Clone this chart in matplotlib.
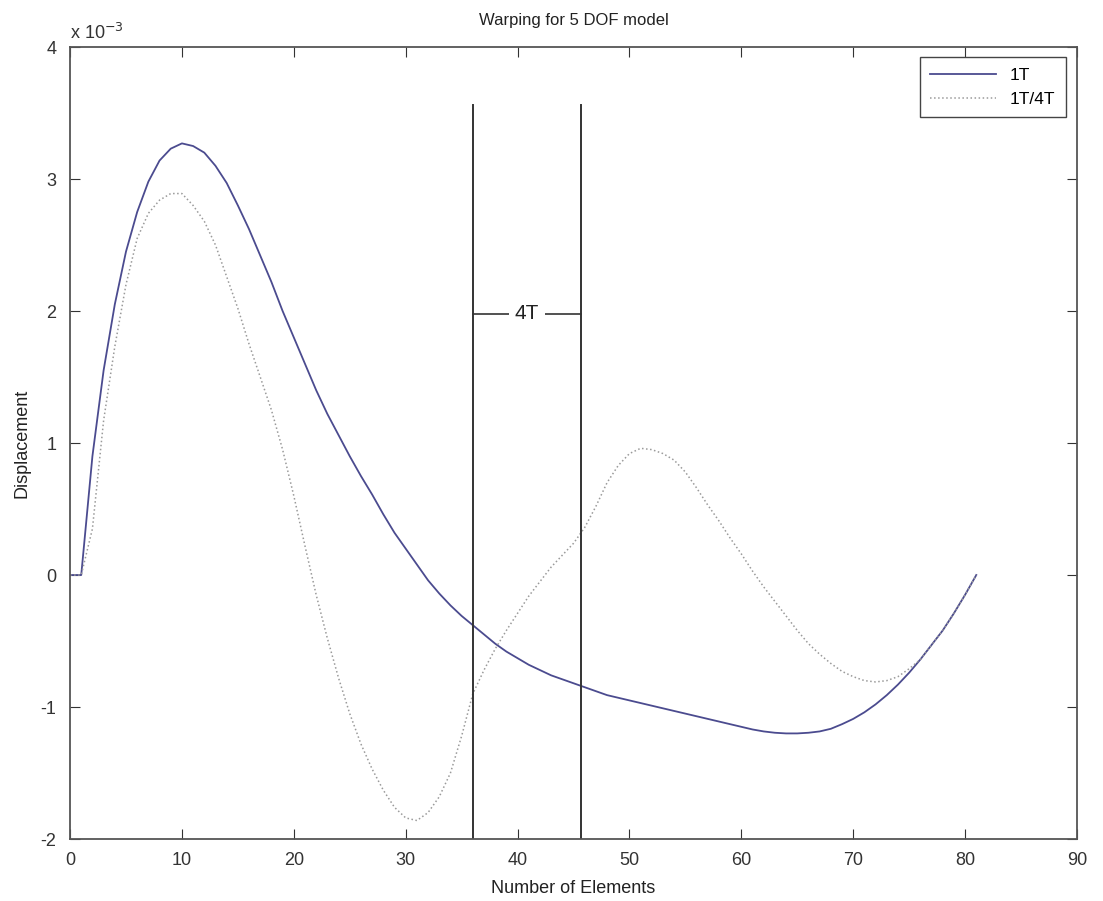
import numpy as np
import matplotlib
matplotlib.use("Agg")
import matplotlib.pyplot as plt

plt.rcParams['font.family'] = ['Liberation Sans', 'DejaVu Sans']
plt.rcParams['axes.unicode_minus'] = False

# number of elements
elements = np.arange(0, 82)

# displacement, units of 1e-3
disp_1t = [0, 0, 0.9, 1.55, 2.05, 2.45, 2.75, 2.98, 3.14, 3.23,
           3.27, 3.25, 3.2, 3.1, 2.97, 2.8, 2.62, 2.42, 2.22, 2.0,
           1.8, 1.6, 1.4, 1.22, 1.06, 0.9, 0.75, 0.61, 0.46, 0.32,
           0.2, 0.08, -0.04, -0.14, -0.23, -0.31, -0.38, -0.45, -0.52, -0.58,
           -0.63, -0.68, -0.72, -0.76, -0.79, -0.82, -0.85, -0.88, -0.91, -0.93,
           -0.95, -0.97, -0.99, -1.01, -1.03, -1.05, -1.07, -1.09, -1.11, -1.13,
           -1.15, -1.17, -1.185, -1.195, -1.2, -1.2, -1.195, -1.185, -1.165, -1.13,
           -1.09, -1.04, -0.98, -0.91, -0.83, -0.74, -0.64, -0.53, -0.42, -0.29,
           -0.15, 0]

disp_1t4t = [0, 0, 0.35, 1.17, 1.73, 2.2, 2.55, 2.74, 2.84, 2.89,
             2.89, 2.8, 2.68, 2.5, 2.26, 2.02, 1.75, 1.5, 1.25, 0.95,
             0.6, 0.22, -0.15, -0.48, -0.78, -1.05, -1.28, -1.47, -1.63, -1.76,
             -1.84, -1.86, -1.8, -1.68, -1.5, -1.22, -0.9, -0.72, -0.56, -0.42,
             -0.29, -0.16, -0.05, 0.06, 0.15, 0.24, 0.36, 0.52, 0.7, 0.83,
             0.92, 0.96, 0.95, 0.92, 0.87, 0.78, 0.66, 0.53, 0.41, 0.28,
             0.16, 0.03, -0.09, -0.2, -0.31, -0.42, -0.52, -0.6, -0.67, -0.73,
             -0.77, -0.8, -0.81, -0.8, -0.77, -0.71, -0.64, -0.53, -0.42, -0.29,
             -0.15, 0]

# 4T region
region_x = [36, 45.7]
region_top = 3.56
marker_y = 1.98

fig = plt.figure(figsize=(11.03, 9.01), dpi=100)
ax = fig.add_axes([0.0635, 0.0688, 0.9129, 0.879])

ax.plot(elements, disp_1t, color='#4b4b8f', lw=1.3, label='1T')
ax.plot(elements, disp_1t4t, color='#9a9a9a', lw=1.1, ls=':', label='1T/4T')

for xv in region_x:
    ax.plot([xv, xv], [-2, region_top], color='#333333', lw=1.4)
ax.plot(region_x, [marker_y, marker_y], color='#333333', lw=1.2)
ax.text(sum(region_x) / 2, marker_y, '4T', ha='center', va='center', fontsize=15,
        color='#222222', bbox=dict(facecolor='white', edgecolor='none', pad=4))

ax.set_xlim(0, 90)
ax.set_ylim(-2, 4)
ax.set_xticks(np.arange(0, 91, 10))
ax.set_yticks(np.arange(-2, 5, 1))
ax.tick_params(direction='in', length=7, top=True, right=True, labelsize=13,
               colors='#333333')
ax.tick_params(axis='x', pad=9)
ax.tick_params(axis='y', pad=10)
for s in ax.spines.values():
    s.set_color('#555555')
    s.set_linewidth(1.3)

ax.set_title('Warping for 5 DOF model', fontsize=12, color='#222222', pad=16)
ax.set_xlabel('Number of Elements', fontsize=13, color='#222222', labelpad=8)
ax.set_ylabel('Displacement', fontsize=13, color='#222222', labelpad=7)
ax.text(0.0, 1.005, r'x 10$^{-3}$', transform=ax.transAxes, fontsize=13,
        color='#333333', va='bottom')

leg = ax.legend(loc='upper right', fontsize=12.5, handlelength=3.8, fancybox=False,
                framealpha=1, borderpad=0.6, borderaxespad=0,
                bbox_to_anchor=(0.989, 0.987))
leg.get_frame().set_edgecolor('#444444')

fig.savefig('out.png', dpi=100)
